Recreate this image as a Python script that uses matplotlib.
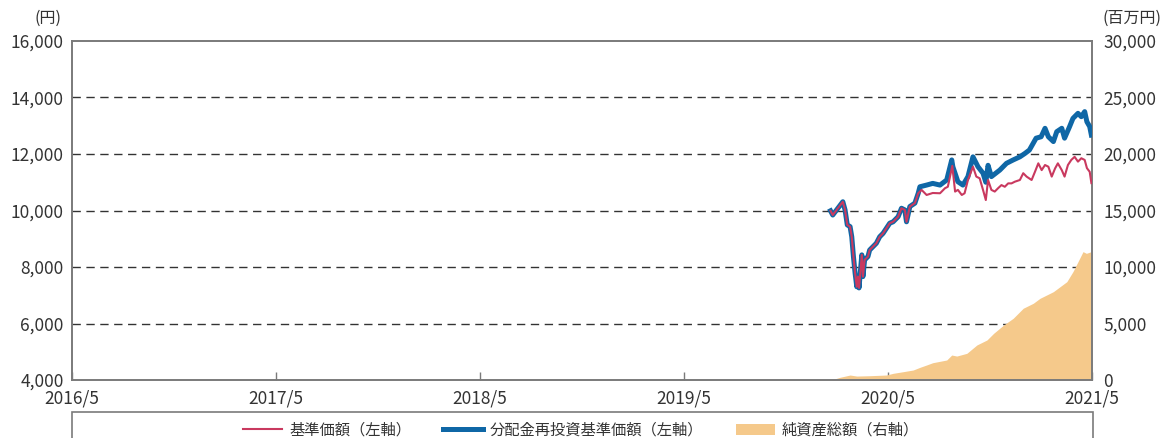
import matplotlib
matplotlib.use("Agg")
import matplotlib.pyplot as plt
from matplotlib.patches import Rectangle, Patch
from matplotlib.lines import Line2D
import pandas as pd

plt.rcParams['font.family'] = ['Noto Sans CJK JP', 'DejaVu Sans']

# 基準価額（左軸）
nav_dates = [
    "2020-01-19", "2020-01-23", "2020-02-10", "2020-02-14", "2020-02-18", "2020-02-23",
    "2020-02-26", "2020-02-29", "2020-03-03", "2020-03-06", "2020-03-08", "2020-03-10",
    "2020-03-15", "2020-03-17", "2020-03-20", "2020-03-26", "2020-03-29", "2020-04-04",
    "2020-04-10", "2020-04-16", "2020-04-22", "2020-04-28", "2020-05-04", "2020-05-10",
    "2020-05-19", "2020-05-25", "2020-05-31", "2020-06-03", "2020-06-09", "2020-06-18",
    "2020-06-24", "2020-06-30", "2020-07-09", "2020-07-20", "2020-08-02", "2020-08-11",
    "2020-08-16", "2020-08-24", "2020-08-29", "2020-09-03", "2020-09-10", "2020-09-15",
    "2020-09-21", "2020-09-30", "2020-10-06", "2020-10-12", "2020-10-18", "2020-10-23",
    "2020-10-27", "2020-11-02", "2020-11-08", "2020-11-14", "2020-11-20", "2020-11-26",
    "2020-12-02", "2020-12-08", "2020-12-14", "2020-12-23", "2020-12-29", "2021-01-04",
    "2021-01-13", "2021-01-19", "2021-01-25", "2021-01-31", "2021-02-06", "2021-02-12",
    "2021-02-18", "2021-02-24", "2021-03-01", "2021-03-08", "2021-03-13", "2021-03-19",
    "2021-03-25", "2021-03-31", "2021-04-06", "2021-04-12", "2021-04-18", "2021-04-22",
    "2021-04-27", "2021-04-30",
]
nav_values = [
    9990, 9840, 10310, 10020, 9490, 9430,
    9070, 8370, 7780, 7300, 7660, 7260,
    8430, 7660, 8250, 8370, 8600, 8720,
    8840, 9070, 9190, 9370, 9550, 9600,
    9780, 10080, 10020, 9600, 10140, 10260,
    10610, 10730, 10550, 10620, 10610, 10790,
    10840, 11580, 10670, 10730, 10550, 10610,
    11080, 11550, 11200, 11140, 10730, 10370,
    11080, 10730, 10670, 10790, 10900, 10840,
    10960, 10960, 11020, 11080, 11320, 11200,
    11080, 11370, 11670, 11430, 11610, 11550,
    11200, 11490, 11670, 11430, 11200, 11610,
    11790, 11900, 11730, 11850, 11790, 11500,
    11370, 10970,
]

# 分配金再投資基準価額（左軸）
reinv_dates = nav_dates[:31] + [
    "2020-06-27", "2020-07-09", "2020-07-20", "2020-08-02", "2020-08-14", "2020-08-23",
    "2020-08-25", "2020-09-03", "2020-09-12", "2020-09-21", "2020-09-30", "2020-10-09",
    "2020-10-18", "2020-10-23", "2020-10-27", "2020-11-02", "2020-11-17", "2020-11-29",
    "2020-12-11", "2020-12-23", "2021-01-01", "2021-01-09", "2021-01-21", "2021-01-30",
    "2021-02-06", "2021-02-12", "2021-02-21", "2021-02-27", "2021-03-08", "2021-03-13",
    "2021-03-22", "2021-03-28", "2021-04-06", "2021-04-12", "2021-04-18", "2021-04-22",
    "2021-04-27", "2021-04-30",
]
reinv_values = nav_values[:31] + [
    10840, 10900, 10960, 10900, 11080, 11790,
    11550, 11020, 10900, 11200, 11900, 11550,
    11320, 11000, 11600, 11200, 11430, 11670,
    11790, 11900, 12020, 12140, 12560, 12610,
    12910, 12610, 12440, 12790, 12910, 12560,
    12970, 13260, 13440, 13320, 13500, 13140,
    12970, 12670,
]

# 純資産総額（右軸, 百万円）
aum_dates = [
    "2020-01-20", "2020-02-05", "2020-02-23", "2020-03-06", "2020-03-29", "2020-04-28",
    "2020-05-10", "2020-05-28", "2020-06-15", "2020-06-27", "2020-07-09", "2020-07-20",
    "2020-08-14", "2020-08-23", "2020-09-01", "2020-09-19", "2020-10-07", "2020-10-25",
    "2020-11-06", "2020-11-24", "2020-12-11", "2020-12-29", "2021-01-16", "2021-01-28",
    "2021-02-15", "2021-02-21", "2021-03-05", "2021-03-17", "2021-03-28", "2021-04-06",
    "2021-04-15", "2021-04-21", "2021-04-30",
]
aum_values = [
    0, 240, 440, 350, 380, 440,
    590, 735, 885, 1120, 1330, 1530,
    1770, 2210, 2120, 2360, 3100, 3540,
    4130, 4870, 5460, 6350, 6790, 7230,
    7670, 7820, 8260, 8700, 9590, 10470,
    11360, 11210, 11360,
]

x_ticks = ["2016-05-01", "2017-05-01", "2018-05-01", "2019-05-01", "2020-05-01", "2021-05-01"]
x_ticklabels = ["2016/5", "2017/5", "2018/5", "2019/5", "2020/5", "2021/5"]
left_ticks = [4000, 6000, 8000, 10000, 12000, 14000, 16000]
right_ticks = [0, 5000, 10000, 15000, 20000, 25000, 30000]

red = "#c9395f"
blue = "#0f67a6"
sand = "#f5c98b"
text_c = "#333333"
spine_c = "#7a7a7a"

fig = plt.figure(figsize=(11.63, 4.38), dpi=100)
ax2 = fig.add_axes([0.0619, 0.1324, 0.8770, 0.7740])
ax = ax2.twinx()
ax.set_zorder(ax2.get_zorder() + 1)
ax.patch.set_visible(False)

ax2.yaxis.tick_right()
ax2.yaxis.set_label_position("right")
ax.yaxis.tick_left()
ax.yaxis.set_label_position("left")

# area + grid on the back axes
ax2.fill_between(pd.to_datetime(aum_dates), 0, aum_values, color=sand, lw=0, zorder=2)
ax2.set_ylim(0, 30000)
ax2.set_yticks(right_ticks)
ax2.set_yticklabels([f"{v:,}" for v in right_ticks])
for v in right_ticks[1:-1]:
    ax2.axhline(v, color="#333333", lw=1.0, ls=(0, (6, 4)), zorder=1)

# lines on the front axes
ax.plot(pd.to_datetime(reinv_dates), reinv_values, color=blue, lw=3.6,
        solid_joinstyle="round", zorder=3)
ax.plot(pd.to_datetime(nav_dates), nav_values, color=red, lw=1.5, zorder=4)
ax.set_ylim(4000, 16000)
ax.set_yticks(left_ticks)
ax.set_yticklabels([f"{v:,}" for v in left_ticks])

xt = pd.to_datetime(x_ticks)
ax2.set_xlim(xt[0], xt[-1])
ax2.set_xticks(xt)
ax2.set_xticklabels(x_ticklabels)

ax2.tick_params(axis="x", direction="in", length=6, width=1, color=spine_c,
                labelsize=12.5, labelcolor=text_c, pad=7)
ax2.tick_params(axis="y", length=0, labelsize=12.5, labelcolor=text_c, pad=8)
ax.tick_params(axis="y", length=0, labelsize=12.5, labelcolor=text_c, pad=6)

for a in (ax, ax2):
    for s in a.spines.values():
        s.set_color(spine_c)
        s.set_linewidth(1.2)

fig.text(62 / 1163, 1 - 18 / 438, "(円)", ha="right", va="center",
         fontsize=11.5, color=text_c)
fig.text(1103 / 1163, 1 - 18 / 438, "(百万円)", ha="left", va="center",
         fontsize=11.5, color=text_c)

# legend frame (cut off at the bottom)
fig.patches.append(Rectangle((72 / 1163, -0.05), (1093 - 72) / 1163, 0.05 + 26 / 438,
                             transform=fig.transFigure, fill=False,
                             edgecolor=spine_c, lw=1.2))
handles = [
    Line2D([], [], color=red, lw=1.5),
    Line2D([], [], color=blue, lw=3.6),
    Patch(facecolor=sand, edgecolor="none"),
]
labels = ["基準価額（左軸）", "分配金再投資基準価額（左軸）", "純資産総額（右軸）"]
fig.legend(handles, labels, loc="center", bbox_to_anchor=(581 / 1163, 1 - 430 / 438),
           ncol=3, frameon=False, fontsize=11, labelcolor=text_c,
           handlelength=2.6, handleheight=0.75, handletextpad=0.45, columnspacing=2.1)

fig.savefig("out.png", dpi=100)
